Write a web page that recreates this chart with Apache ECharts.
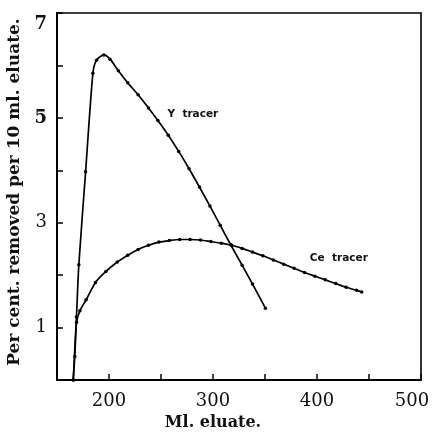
<!DOCTYPE html>
<html>
<head>
    <meta charset="utf-8">
    <script src="https://cdn.jsdelivr.net/npm/echarts@6/dist/echarts.min.js"></script>
    <style>
        html, body { margin: 0; padding: 0; background: #fff; }
    </style>
</head>
<body>
    <div id="main" style="width: 432px;height:435px;"></div>
    <script type="text/javascript">
        // readings: [ml eluate, per cent removed]
        var yTracer = [
            [165.6, 0], [168.7, 1.2], [171, 2.2], [177.5, 3.97], [184.5, 5.85],
            [188, 6.1], [195, 6.2], [201, 6.12], [209, 5.9], [218, 5.67],
            [228, 5.44], [238, 5.19], [247, 4.95], [257, 4.67], [267, 4.36],
            [277, 4.03], [287, 3.68], [297, 3.32], [307, 2.95], [317, 2.58],
            [328, 2.19], [338, 1.83], [350.4, 1.37]
        ];
        var ceTracer = [
            [165.6, 0], [167.1, 0.45], [168.8, 1.1], [172, 1.32], [178, 1.53],
            [187, 1.86], [197, 2.07], [208, 2.25], [218, 2.38], [228, 2.49],
            [238, 2.57], [248, 2.63], [258, 2.66], [268, 2.68], [278, 2.68],
            [288, 2.67], [298, 2.64], [308, 2.61], [318, 2.57], [328, 2.51],
            [338, 2.44], [348, 2.37], [358, 2.29], [368, 2.21], [378, 2.13],
            [388, 2.05], [398, 1.98], [408, 1.91], [418, 1.84], [428, 1.77],
            [438, 1.71], [443, 1.68]
        ];
        var xLabels = [200, 300, 400, 500];
        var yLabels = [1, 3, 5, 7];

        var serif = '"DejaVu Serif", "Liberation Serif", serif';
        var sans = '"DejaVu Sans", sans-serif';
        var chart = echarts.init(document.getElementById('main'));

        function tracerLabel(name, coord) {
            return {
                symbol: 'circle', symbolSize: 0,
                label: {
                    show: true, position: 'inside',
                    fontFamily: sans, fontSize: 10.5, fontWeight: 'bold', color: '#111',
                    formatter: function (p) { return p.name; }
                },
                data: [{ name: name, coord: coord }]
            };
        }

        chart.setOption({
            animation: false,
            grid: {
                left: 57, right: 11, top: 13, bottom: 55,
                outerBoundsMode: 'none',
                containLabel: false,
                show: true, borderColor: '#000', borderWidth: 1.6
            },
            xAxis: {
                type: 'value',
                min: 150, max: 500, interval: 50,
                name: 'Ml. eluate.',
                nameLocation: 'middle',
                nameGap: 29,
                nameTextStyle: {
                    fontFamily: serif, fontSize: 16, fontWeight: 'bold', color: '#111',
                    padding: [0, 52, 0, 0]
                },
                axisLine: { lineStyle: { color: '#000', width: 2 } },
                axisTick: { inside: true, length: 6, lineStyle: { color: '#000', width: 1.5 } },
                axisLabel: {
                    margin: 12,
                    fontFamily: serif, fontSize: 18, color: '#111',
                    formatter: function (v) {
                        if (xLabels.indexOf(v) < 0) return '';
                        // last label sits pulled in from the right edge
                        return v === 500 ? '{r|500}' : String(v);
                    },
                    rich: {
                        r: { fontFamily: serif, fontSize: 18, color: '#111', padding: [0, 18, 0, 0] }
                    }
                },
                splitLine: { show: false }
            },
            yAxis: {
                type: 'value',
                min: 0, max: 7, interval: 1,
                name: 'Per cent. removed per 10 ml. eluate.',
                nameLocation: 'middle',
                nameGap: 27,
                nameTextStyle: {
                    fontFamily: serif, fontSize: 17, fontWeight: 'bold', color: '#111',
                    padding: [0, 0, 0, 9]
                },
                axisLine: { show: true, lineStyle: { color: '#000', width: 2 } },
                axisTick: { show: true, inside: true, length: 6, lineStyle: { color: '#000', width: 1.5 } },
                axisLabel: {
                    margin: 10,
                    fontFamily: serif, fontSize: 18, color: '#111',
                    formatter: function (v) {
                        if (yLabels.indexOf(v) < 0) return '';
                        if (v === 7) return '{t|7}';
                        return v === 5 ? '{b|5}' : '{n|' + v + '}';
                    },
                    rich: {
                        t: { fontFamily: serif, fontSize: 18, fontWeight: 'bold', color: '#111', padding: [22, 0, 0, 0] },
                        b: { fontFamily: serif, fontSize: 18, fontWeight: 'bold', color: '#111' },
                        n: { fontFamily: serif, fontSize: 18, color: '#111' }
                    }
                },
                splitLine: { show: false }
            },
            series: [
                {
                    name: 'Y tracer',
                    type: 'line',
                    data: yTracer,
                    smooth: 0.25,
                    symbol: 'circle',
                    symbolSize: 3.5,
                    itemStyle: { color: '#000' },
                    lineStyle: { color: '#000', width: 1.7 },
                    markPoint: tracerLabel('Y  tracer', [280.6, 5.06])
                },
                {
                    name: 'Ce tracer',
                    type: 'line',
                    data: ceTracer,
                    smooth: 0.25,
                    symbol: 'circle',
                    symbolSize: 3.5,
                    itemStyle: { color: '#000' },
                    lineStyle: { color: '#000', width: 1.7 },
                    markPoint: tracerLabel('Ce  tracer', [421, 2.33])
                }
            ]
        });
    </script>
</body>
</html>
